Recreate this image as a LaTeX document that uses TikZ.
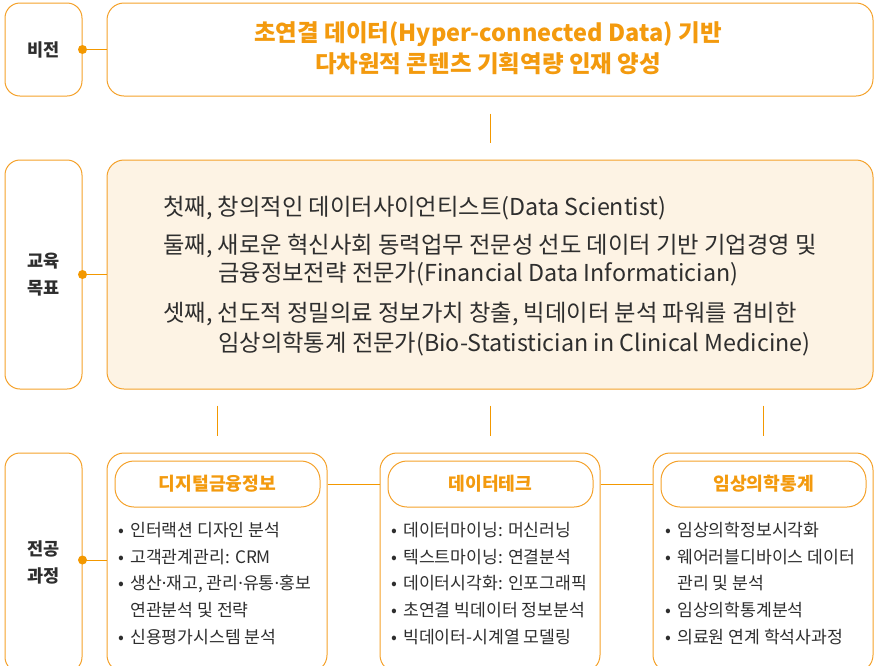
\documentclass[tikz,border=0pt]{standalone}
\usepackage{fontspec}
\setmainfont{Noto Sans CJK KR}
\newfontfamily\latinfont{Noto Sans}
\newcommand\middot{{\latinfont ·}}
\usetikzlibrary{calc}
\definecolor{boxor}{HTML}{F4A12A}
\definecolor{textor}{HTML}{F39A0E}
\definecolor{dotor}{HTML}{F39800}
\definecolor{goalfill}{HTML}{FDF3E4}
\definecolor{ink}{HTML}{2E2E2E}
\begin{document}
\begin{tikzpicture}[x=1pt,y=-1pt,
  lbox/.style={draw=boxor, line width=1pt, rounded corners=15pt, minimum width=77pt, align=center, text=ink, font=\fontsize{17.5}{27}\selectfont\bfseries},
  mbox/.style={draw=boxor, line width=1pt, rounded corners=17pt, minimum width=766pt},
  sbox/.style={draw=boxor, line width=1pt, rounded corners=17pt, minimum width=220pt, minimum height=219pt},
  tbox/.style={draw=boxor, line width=1pt, rounded corners=19pt, minimum width=205pt, minimum height=46pt, text=textor, font=\fontsize{18.2}{20}\selectfont\bfseries},
  vtext/.style={anchor=base, text=textor, inner sep=0pt, font=\fontsize{23.5}{26}\selectfont\bfseries},
  gtext/.style={anchor=base west, text=ink, inner sep=0pt, font=\fontsize{23.3}{26}\selectfont},
  btext/.style={anchor=base west, text=ink, inner sep=0pt, font=\fontsize{17.2}{20}\selectfont},
  conn/.style={draw=dotor, line width=1pt},
  dot/.style={fill=dotor}
]
\useasboundingbox (0,0) rectangle (874,665);
\clip (0,0) rectangle (874,665);

% row 1: vision
\node[lbox, minimum height=93pt] (vl) at (43.5,49.5) {비전};
\node[mbox, minimum height=93pt] (vb) at (490,49.5) {};
\node[vtext] (vt1) at (488,41.5) {초연결 데이터(Hyper-connected Data) 기반};
\node[vtext] (vt2) at (488,72.5) {다차원적 콘텐츠 기획역량 인재 양성};

% row 2: goals
\node[lbox, minimum height=229pt] (gl) at (43.5,274.5) {교육\\목표};
\node[mbox, minimum height=229pt, fill=goalfill] (gb) at (490,274.5) {};
\node[gtext] (g1) at (163,215.5) {첫째, 창의적인 데이터사이언티스트(Data Scientist)};
\node[gtext] (g2) at (163,253.5) {둘째, 새로운 혁신사회 동력업무 전문성 선도 데이터 기반 기업경영 및};
\node[gtext] (g3) at (218,281.5) {금융정보전략 전문가(Financial Data Informatician)};
\node[gtext] (g4) at (163,321.5) {셋째, 선도적 정밀의료 정보가치 창출, 빅데이터 분석 파워를 겸비한};
\node[gtext] (g5) at (218,351.5) {임상의학통계 전문가(Bio-Statistician in Clinical Medicine)};

% row 3: majors
\node[lbox, minimum height=219pt] (ml) at (43.5,562.5) {전공\\과정};
\node[sbox] (m1) at (217,562.5) {};
\node[sbox] (m2) at (490,562.5) {};
\node[sbox] (m3) at (763,562.5) {};
\node[tbox] (t1) at (217.5,484) {디지털금융정보};
\node[tbox] (t2) at (490.5,484) {데이터테크};
\node[tbox] (t3) at (763.5,484) {임상의학통계};

% bullets box 1
\node[btext] (b11) at (118,536.4) {•};
\node[btext] (a11) at (130,536.4) {인터랙션 디자인 분석};
\node[btext] (b12) at (118,563.4) {•};
\node[btext] (a12) at (130,563.4) {고객관계관리: CRM};
\node[btext] (b13) at (118,589.4) {•};
\node[btext] (a13) at (130,589.4) {생산\middot 재고, 관리\middot 유통\middot 홍보};
\node[btext] (a13b) at (130,616.4) {연관분석 및 전략};
\node[btext] (b14) at (118,643.4) {•};
\node[btext] (a14) at (130,643.4) {신용평가시스템 분석};

% bullets box 2
\node[btext] (b21) at (391,536.4) {•};
\node[btext] (a21) at (403,536.4) {데이터마이닝: 머신러닝};
\node[btext] (b22) at (391,563.4) {•};
\node[btext] (a22) at (403,563.4) {텍스트마이닝: 연결분석};
\node[btext] (b23) at (391,589.4) {•};
\node[btext] (a23) at (403,589.4) {데이터시각화: 인포그래픽};
\node[btext] (b24) at (391,616.4) {•};
\node[btext] (a24) at (403,616.4) {초연결 빅데이터 정보분석};
\node[btext] (b25) at (391,643.4) {•};
\node[btext] (a25) at (403,643.4) {빅데이터-시계열 모델링};

% bullets box 3
\node[btext] (b31) at (665,536.4) {•};
\node[btext] (a31) at (677,536.4) {임상의학정보시각화};
\node[btext] (b32) at (665,563.4) {•};
\node[btext] (a32) at (677,563.4) {웨어러블디바이스 데이터};
\node[btext] (a32b) at (677,589.4) {관리 및 분석};
\node[btext] (b33) at (665,616.4) {•};
\node[btext] (a33) at (677,616.4) {임상의학통계분석};
\node[btext] (b34) at (665,643.4) {•};
\node[btext] (a34) at (677,643.4) {의료원 연계 학석사과정};

% connectors
\draw[conn] (vl.east) -- (vb.west);
\draw[conn] (gl.east) -- (gb.west);
\draw[conn] (ml.east |- 0,560) -- (m1.west |- 0,560);
\fill[dot] (vl.east) circle (4.5pt);
\fill[dot] (gl.east) circle (4.5pt);
\fill[dot] (ml.east |- 0,560) circle (4.5pt);
\draw[conn] ($(vb.south)+(0,17)$) -- ($(gb.north)+(0,-17)$);
\draw[conn] ($(gb.south -| m1.north)+(0,16)$) -- ($(m1.north)+(0,-17)$);
\draw[conn] ($(gb.south -| m2.north)+(0,16)$) -- ($(m2.north)+(0,-17)$);
\draw[conn] ($(gb.south -| m3.north)+(0,16)$) -- ($(m3.north)+(0,-17)$);
\draw[conn] (m1.east |- t1.center) -- (m2.west |- t2.center);
\draw[conn] (m2.east |- t2.center) -- (m3.west |- t3.center);
\end{tikzpicture}
\end{document}
